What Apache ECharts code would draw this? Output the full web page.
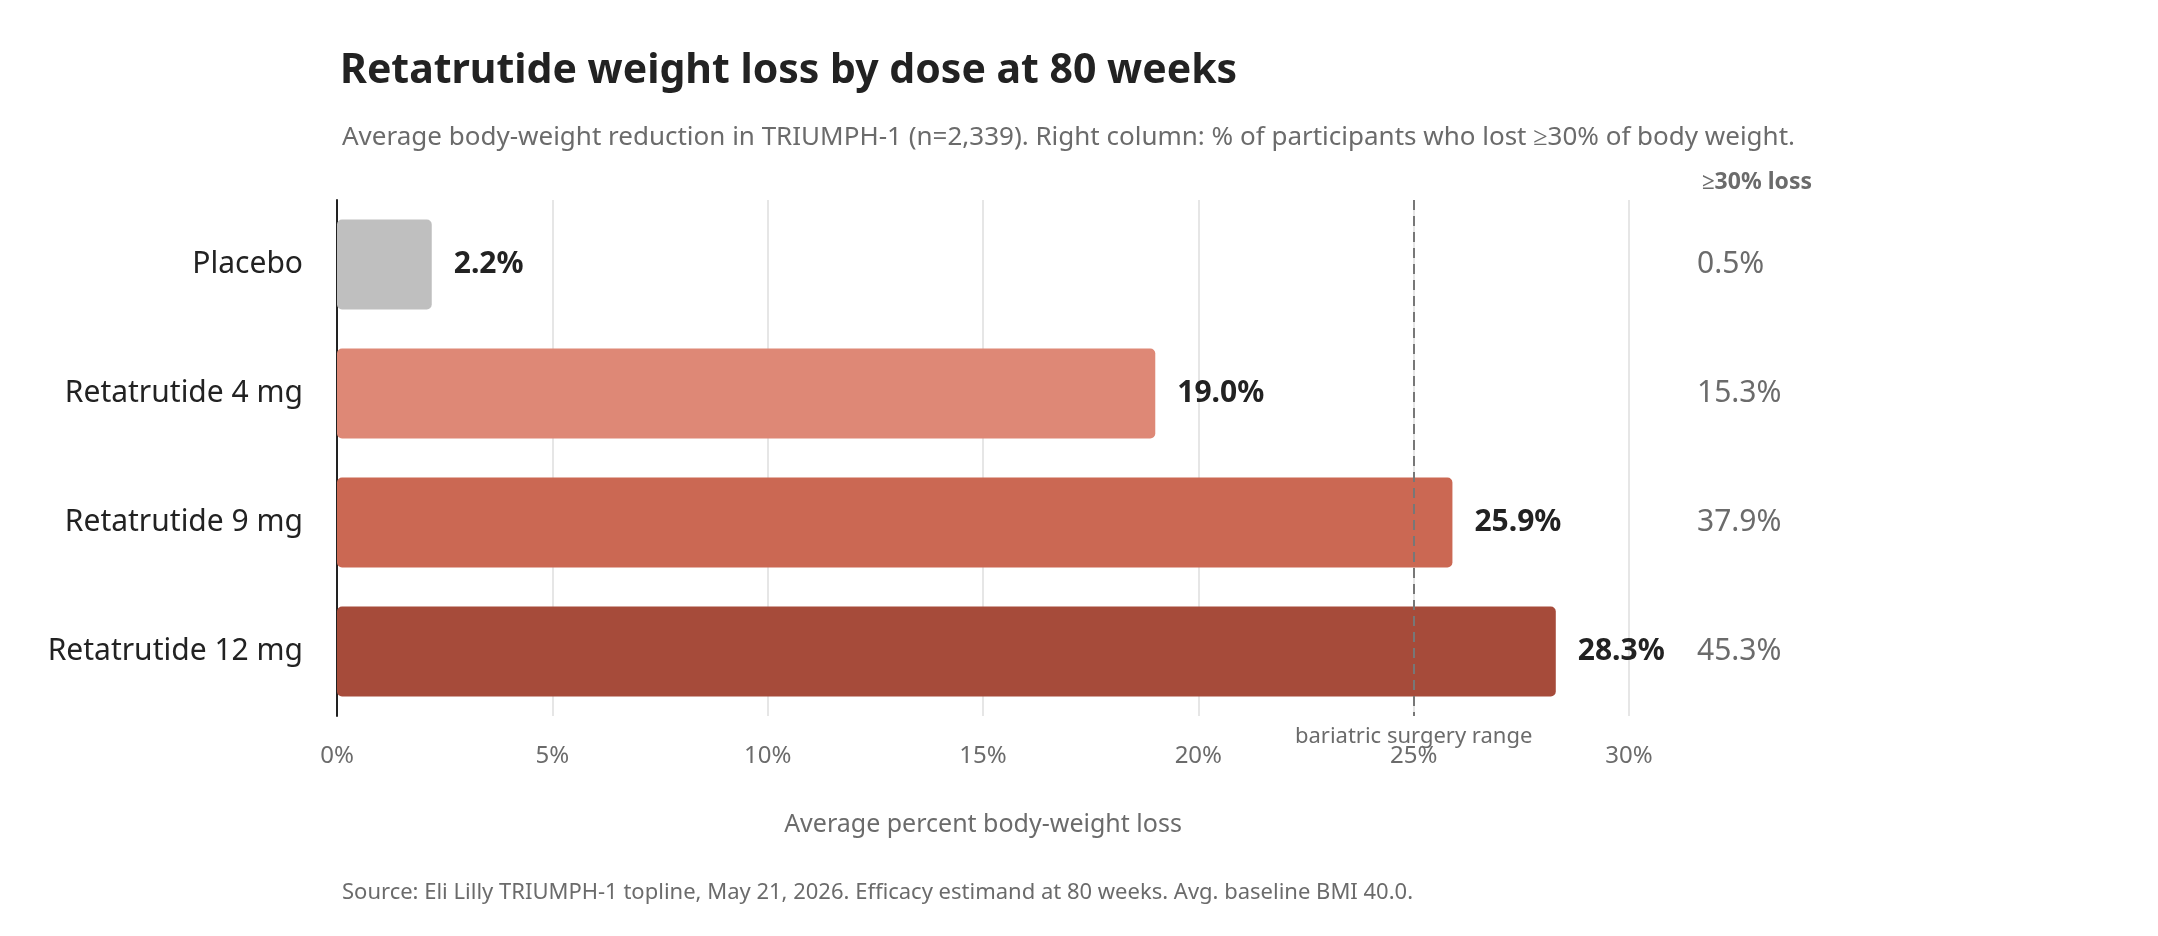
<!DOCTYPE html>
<html><head><meta charset="utf-8">
<script src="https://cdn.jsdelivr.net/npm/echarts@6/dist/echarts.min.js"></script>
<style>html,body{margin:0;padding:0;background:#fff}#c{width:2158px;height:936px}</style>
</head><body><div id="c"></div>
<script>
const categories = ["Placebo", "Retatrutide 4 mg", "Retatrutide 9 mg", "Retatrutide 12 mg"];
const meanLoss = [2.2, 19.0, 25.9, 28.3];
const pct30 = ["0.5%", "15.3%", "37.9%", "45.3%"];
const barColors = ["#bfbfbf", "#de8876", "#cb6853", "#a64b3a"];
const xTicks = [0, 5, 10, 15, 20, 25, 30];
const threshold = 25;
const F = "Noto Sans";
const chart = echarts.init(document.getElementById('c'));
chart.setOption({
  backgroundColor: '#fff',
  animation: false,
  textStyle: { fontFamily: F },
  title: [
    { text: 'Retatrutide weight loss by dose at 80 weeks', left: 335, top: 46,
      textStyle: { fontSize: 41, fontWeight: 'bold', color: '#222', fontFamily: F } },
    { text: 'Average body-weight reduction in TRIUMPH-1 (n=2,339). Right column: % of participants who lost \u226530% of body weight.',
      left: 337, top: 120, textStyle: { fontSize: 26, fontWeight: 'normal', color: '#6b6b6b', fontFamily: F } },
    { text: 'Source: Eli Lilly TRIUMPH-1 topline, May 21, 2026. Efficacy estimand at 80 weeks. Avg. baseline BMI 40.0.',
      left: 337, top: 877, textStyle: { fontSize: 22, fontWeight: 'normal', color: '#6b6b6b', fontFamily: F } },
    { text: '\u226530% loss', left: 1697, top: 166, textStyle: { fontSize: 23, fontWeight: 'bold', color: '#6b6b6b', fontFamily: F } }
  ],
  grid: { left: 337, right: 2158 - 1629, top: 200, height: 516 },
  xAxis: {
    type: 'value', min: xTicks[0], max: xTicks[xTicks.length - 1], interval: 5,
    axisLabel: { formatter: '{value}%', fontSize: 24, color: '#6b6b6b', margin: 28 },
    splitLine: { lineStyle: { color: '#e6e6e6', width: 2 } },
    axisLine: { show: false }, axisTick: { show: false },
    name: 'Average percent body-weight loss', nameLocation: 'middle', nameGap: 96,
    nameTextStyle: { fontSize: 25, color: '#6b6b6b' }
  },
  yAxis: [
    { type: 'category', data: categories, inverse: true,
      axisLine: { show: true, lineStyle: { color: '#222', width: 2 } }, axisTick: { show: false },
      axisLabel: { fontSize: 30, color: '#222', margin: 34 } },
    { type: 'category', data: pct30, inverse: true, position: 'right',
      axisLine: { show: false }, axisTick: { show: false },
      axisLabel: { fontSize: 30, color: '#6b6b6b', margin: 68, align: 'left' } }
  ],
  series: [{
    type: 'bar', yAxisIndex: 0, barWidth: 90,
    data: meanLoss.map((v, i) => ({ value: v, itemStyle: { color: barColors[i], borderRadius: 5 } })),
    label: { show: true, position: 'right', distance: 22, formatter: p => p.value.toFixed(1) + '%',
      fontSize: 30, fontWeight: 'bold', color: '#222' },
    markLine: {
      symbol: 'none', silent: true,
      lineStyle: { type: [10, 6], color: '#777', width: 2 },
      label: { show: true, position: 'end', formatter: 'bariatric surgery range', fontSize: 22, color: '#6b6b6b', distance: 10 },
      data: [{ xAxis: threshold }]
    }
  }]
});
</script></body></html>
